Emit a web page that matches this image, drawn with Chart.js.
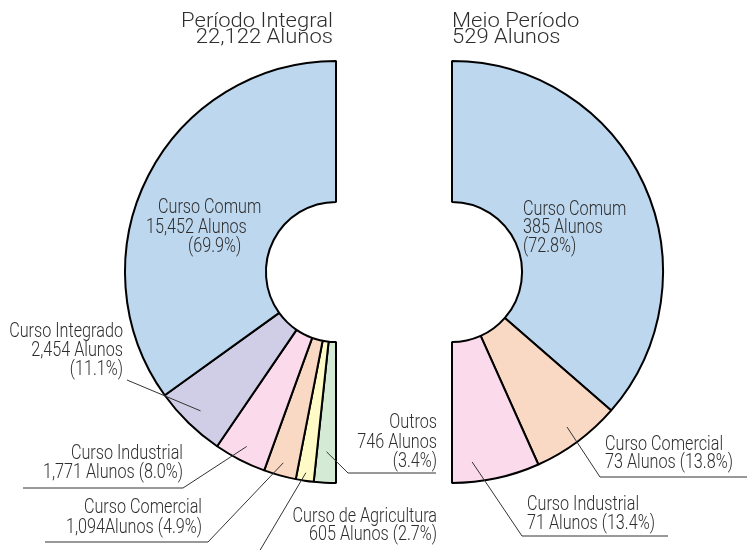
<!DOCTYPE html>
<html><head><meta charset="utf-8">
<script src="https://cdn.jsdelivr.net/npm/chart.js@4.4.1/dist/chart.umd.min.js"></script>
<style>
html,body{margin:0;padding:0;background:#fff;}
#wrap{position:relative;width:747px;height:550px;overflow:hidden;background:#fff;}
canvas{position:absolute;left:0;top:0;}
</style></head><body>
<div id="wrap"><canvas id="c1" width="747" height="550"></canvas><canvas id="c2" width="747" height="550"></canvas></div>
<script>
// ---- DATA ----
const integralCategories = ['Outros','Curso de Agricultura','Curso Comercial','Curso Industrial','Curso Integrado','Curso Comum'];
const integralValues = [746, 605, 1094, 1771, 2454, 15452];
const integralLabels = [
  ['Outros','746 Alunos','(3.4%)'],
  ['Curso de Agricultura','605 Alunos (2.7%)'],
  ['Curso Comercial','1,094Alunos (4.9%)'],
  ['Curso Industrial','1,771 Alunos (8.0%)'],
  ['Curso Integrado','2,454 Alunos','(11.1%)'],
  ['Curso Comum','15,452 Alunos','(69.9%)']
];
const meioCategories = ['Curso Comum','Curso Comercial','Curso Industrial'];
const meioValues = [385, 73, 71];
const meioLabels = [
  ['Curso Comum','385 Alunos','(72.8%)'],
  ['Curso Comercial','73 Alunos (13.8%)'],
  ['Curso Industrial','71 Alunos (13.4%)']
];
const integralTitle = ['Período Integral','22,122 Alunos'];
const meioTitle = ['Meio Período','529 Alunos'];

// ---- STYLE ----
const colorMap = {
  'Curso Comum':'#bdd7ee','Curso Integrado':'#d0cee6','Curso Industrial':'#fadaeb',
  'Curso Comercial':'#fad9c4','Curso de Agricultura':'#fffac6','Outros':'#d5ead5'
};
const TEXT = '#2e2e2e';
const FONT_FAMILY = 'Roboto, "Noto Sans", "DejaVu Sans", sans-serif';
const LABEL_FONT = '300 20.5px ' + FONT_FAMILY;
const LABEL_SX = 0.79;
const TITLE_FONT = '300 19.5px ' + FONT_FAMILY;
const TITLE_SX = 1.13;

// label layout (positions only)
const integralLayout = [
  {lines:[[437,423],[437,443],[437,462]], align:'right', path:[[436,473],[348,473]], r:180, f:0.5},
  {lines:[[437,517],[437,535]], align:'right', path:[[259,552]], r:203, f:0.5},
  {lines:[[202,508],[202,528]], align:'right', path:[[45,542],[208,542]], r:198, f:0.5},
  {lines:[[183,454],[183,473]], align:'right', path:[[23,488],[183,488]], r:196, f:0.5},
  {lines:[[123,332],[123,351],[123,370]], align:'right', path:[[127,380]], r:194, f:0.5},
  {lines:[[158,208],[146,228],[188,247]], align:'left', path:null}
];
const meioLayout = [
  {lines:[[523,210],[523,228],[523,247]], align:'left', path:null},
  {lines:[[605,445],[605,463]], align:'left', path:[[747,477],[600,477]], r:193, f:0.5},
  {lines:[[527,505],[527,524]], align:'left', path:[[668,536],[522,536]], r:191, f:0.75}
];

function drawText(ctx, str, x, y, align, font, sx) {
  ctx.save();
  ctx.font = font;
  ctx.fillStyle = TEXT;
  ctx.textBaseline = 'middle';
  ctx.translate(x, y);
  ctx.scale(sx, 1);
  ctx.textAlign = align;
  ctx.fillText(str, 0, 0);
  ctx.restore();
}

function labelPlugin(labels, layout, title, titleAlign, titleX) {
  return {
    id: 'labels',
    afterDraw(chart) {
      const ctx = chart.ctx;
      const meta = chart.getDatasetMeta(0);
      meta.data.forEach((el, i) => {
        const L = layout[i];
        const lines = labels[i];
        if (L.path) {
          const a = el.startAngle + (el.endAngle - el.startAngle) * L.f;
          const ax = el.x + Math.cos(a) * L.r;
          const ay = el.y + Math.sin(a) * L.r;
          ctx.save();
          ctx.strokeStyle = '#333';
          ctx.lineWidth = 1;
          ctx.beginPath();
          ctx.moveTo(L.path[0][0], L.path[0][1]);
          for (let k = 1; k < L.path.length; k++) ctx.lineTo(L.path[k][0], L.path[k][1]);
          ctx.lineTo(ax, ay);
          ctx.stroke();
          ctx.restore();
        }
        lines.forEach((s, k) => drawText(ctx, s, L.lines[k][0], L.lines[k][1], L.align, LABEL_FONT, LABEL_SX));
      });
      title.forEach((s, k) => drawText(ctx, s, titleX, 22 + k * 16, titleAlign, TITLE_FONT, TITLE_SX));
    }
  };
}

function makeChart(id, cats, vals, rotation, padding, plugin) {
  return new Chart(document.getElementById(id), {
    type: 'doughnut',
    data: {
      labels: cats,
      datasets: [{
        data: vals,
        backgroundColor: cats.map(c => colorMap[c]),
        borderColor: '#000',
        borderWidth: 2,
        hoverOffset: 0
      }]
    },
    options: {
      responsive: false,
      animation: false,
      events: [],
      rotation: rotation,
      circumference: 180,
      radius: 211,
      cutout: '33.2%',
      layout: {padding: padding},
      plugins: {legend: {display: false}, tooltip: {enabled: false}, title: {display: false}}
    },
    plugins: [plugin]
  });
}

makeChart('c1', integralCategories, integralValues, 180, {left:0, right:286, top:0, bottom:6},
  labelPlugin(integralLabels, integralLayout, integralTitle, 'right', 333));
makeChart('c2', meioCategories, meioValues, 0, {left:368, right:0, top:0, bottom:6},
  labelPlugin(meioLabels, meioLayout, meioTitle, 'left', 452));
</script>
</body></html>
